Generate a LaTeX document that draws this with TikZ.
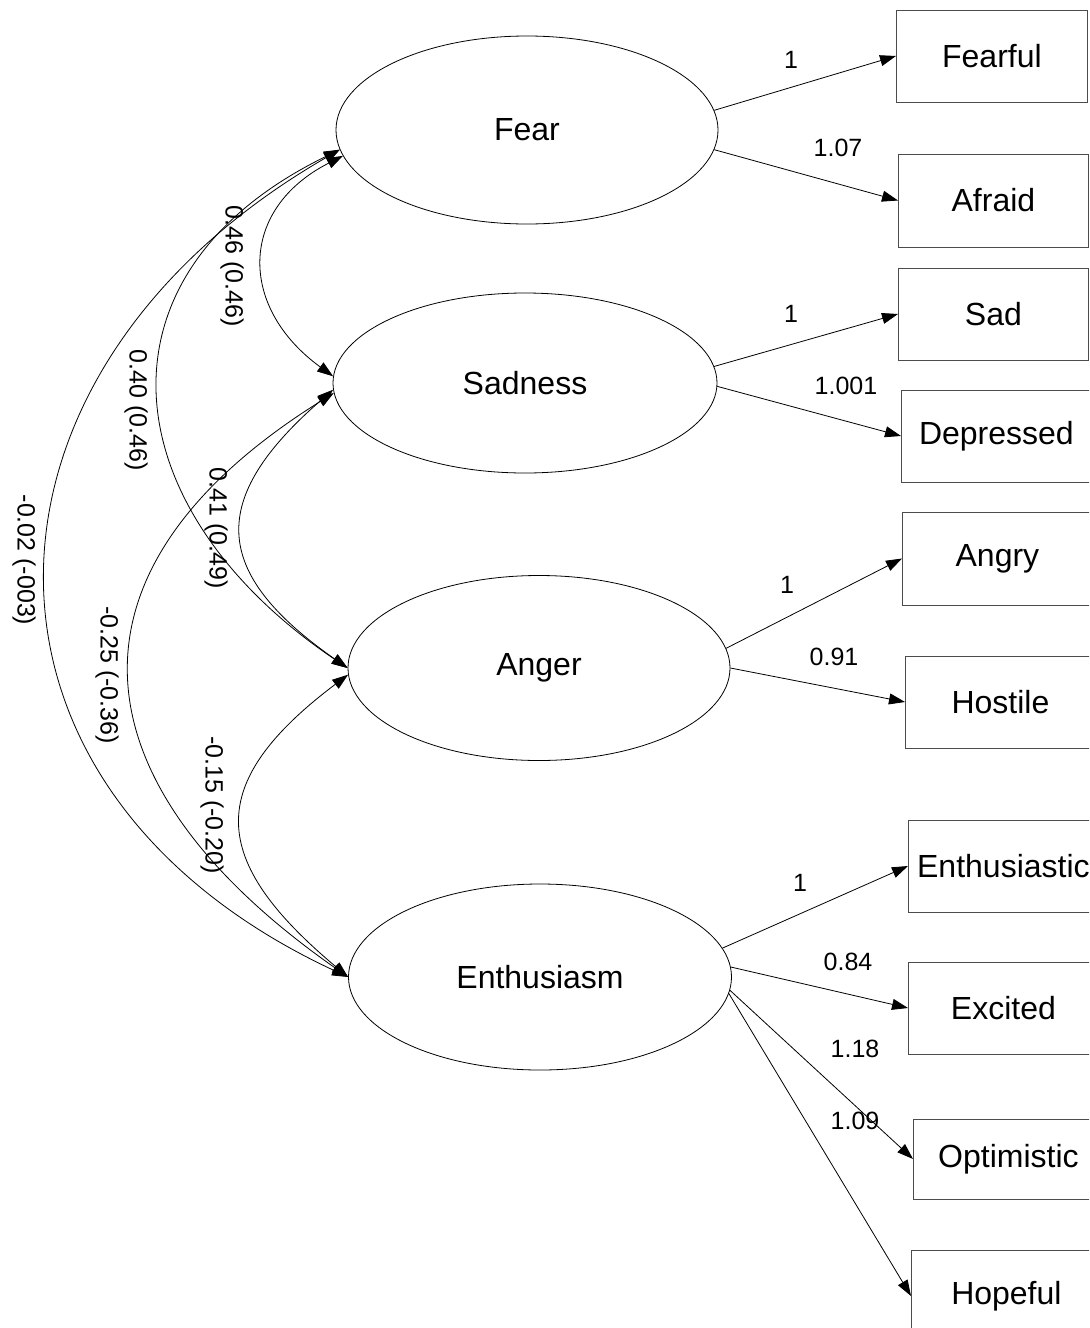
\documentclass[tikz,border=0pt]{standalone}
\usepackage{fontspec}
\setmainfont{Liberation Sans}
\usetikzlibrary{shapes.geometric, arrows.meta}

\begin{document}
\begin{tikzpicture}[x=0.5pt, y=0.5pt,
  latent/.style={draw, ellipse, thin, inner sep=0pt, font=\fontsize{16}{19}\selectfont},
  item/.style={draw=black!70, rectangle, anchor=west, inner sep=2pt, font=\fontsize{16}{19}\selectfont},
  coef/.style={inner sep=0pt, font=\fontsize{12.5}{15}\selectfont},
  load/.style={thin, -{Triangle[length=8pt,width=5.5pt]}},
  covar/.style={thin, {Triangle[length=8pt,width=5.5pt]}-{Triangle[length=8pt,width=5.5pt]}}]
  \useasboundingbox (0,0) rectangle (1089,-1328);
  \clip (0,0) rectangle (1089,-1328);
  % latent factors
  \node[latent, minimum width=191pt, minimum height=94pt] (fear) at (527,-130) {Fear};
  \node[latent, minimum width=192pt, minimum height=90pt] (sadness) at (525,-383) {Sadness};
  \node[latent, minimum width=191pt, minimum height=92.5pt] (anger) at (539,-668) {Anger};
  \node[latent, minimum width=191.5pt, minimum height=93pt] (enthusiasm) at (540,-977) {Enthusiasm};
  % indicators
  \foreach \nm/\lx/\cy/\ww/\hh/\txt in {
    fearful/896/56/95.5/46/Fearful, afraid/898/200.5/95/46.5/Afraid,
    sad/898/314/95/46/Sad, depressed/901/436/95/46/Depressed,
    angry/902/558.5/95/46.5/Angry, hostile/905/702/95/46/Hostile,
    enthusiastic/908/866/95/46/Enthusiastic, excited/908/1008/95/46/Excited,
    optimistic/913/1159/95/40/Optimistic, hopeful/911/1296/95/46/Hopeful}
  {
    \node[item, minimum width=\ww pt, minimum height=\hh pt] (\nm) at (\lx,-\cy) {\txt};
  }
  % loadings
  \foreach \src/\ang/\dst in {
    fear/6/fearful, fear/354/afraid, sadness/5/sad, sadness/359/depressed,
    anger/6/angry, anger/0/hostile, enthusiasm/9/enthusiastic,
    enthusiasm/3/excited, enthusiasm/356/optimistic, enthusiasm/355/hopeful}
  {
    \draw[load] (\src.\ang) -- (\dst.west);
  }
  \foreach \nm/\x/\y/\txt in {
    l1/791/60/1, l2/838/148/1.07, l3/791/314/1, l4/846/386/1.001,
    l5/787/585/1, l6/834/657/0.91, l7/800/883/1, l8/848/962/0.84,
    l9/855/1049/1.18, l10/855/1121/1.09}
  {
    \node[coef] (\nm) at (\x,-\y) {\txt};
  }
  % factor covariances
  \draw[covar] (fear.188) to[out=207, in=144, looseness=1.36] (sadness.178);
  \draw[covar] (fear.186) to[out=206, in=146, looseness=1.40] (anger.180);
  \draw[covar] (fear.186) to[out=210, in=155, looseness=1.38] (enthusiasm.180);
  \draw[covar] (sadness.182) to[out=221, in=145, looseness=1.53] (anger.180);
  \draw[covar] (sadness.183) to[out=212, in=145, looseness=1.47] (enthusiasm.180);
  \draw[covar] (anger.182) to[out=217, in=140, looseness=1.54] (enthusiasm.180);
  \node[coef, rotate=-90] (r1) at (232,-266) {0.46 (0.46)};
  \node[coef, rotate=-90] (r2) at (136,-410) {0.40 (0.46)};
  \node[coef, rotate=-90] (r3) at (216,-528) {0.41 (0.49)};
  \node[coef, rotate=-90] (r4) at (24,-560) {-0.02 (-003)};
  \node[coef, rotate=-90] (r5) at (107,-675) {-0.25 (-0.36)};
  \node[coef, rotate=-90] (r6) at (212,-805) {-0.15 (-0.20)};
\end{tikzpicture}
\end{document}
